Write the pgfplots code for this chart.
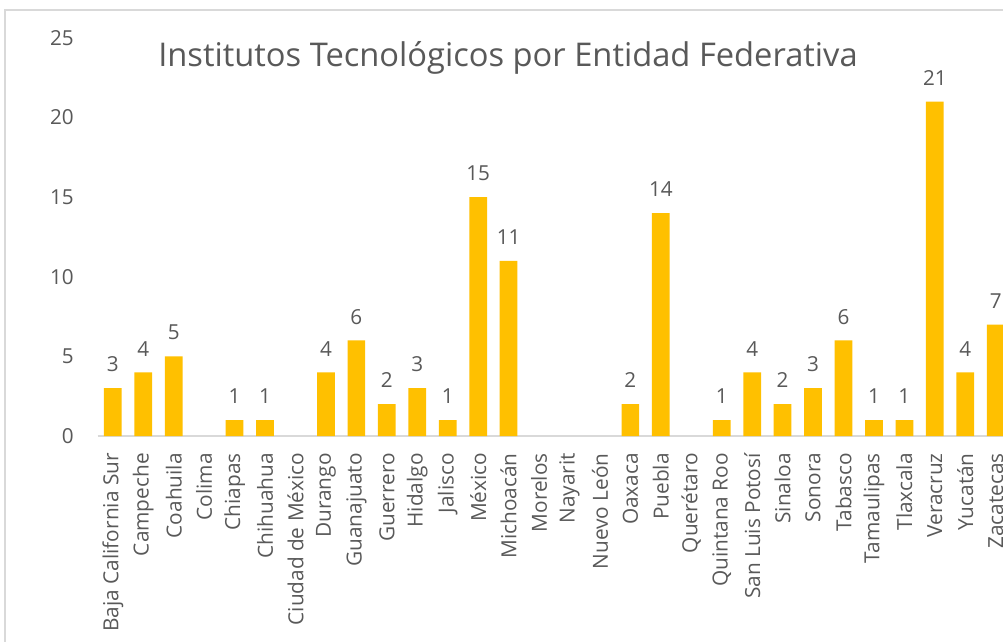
\documentclass[border=0pt]{standalone}
\usepackage{fontspec}
\setmainfont{Open Sans}
\usepackage{pgfplots}
\pgfplotsset{compat=1.18}
\definecolor{bar}{HTML}{FFC000}
\definecolor{txt}{HTML}{595959}
\definecolor{axl}{HTML}{D9D9D9}
\begin{document}
\begin{tikzpicture}
\useasboundingbox (0,0) rectangle (752.25pt,-481.5pt);
\begin{scope}
\clip (0,0) rectangle (752.25pt,-481.5pt);
\fill[white] (0,0) rectangle (752.25pt,-481.5pt);
\draw[axl, line width=1pt] (3.75pt,-800pt) -- (3.75pt,-7.5pt) -- (900pt,-7.5pt);
\begin{axis}[
  at={(73.2pt,-327pt)}, anchor=south west,
  scale only axis, width=685pt, height=298.5pt,
  xmin=-0.5, xmax=29.5, ymin=0, ymax=25,
  enlargelimits=false, clip=false,
  ytick={0,5,10,15,20,25},
  xtick={0,...,29},
  xticklabels={Baja California Sur,Campeche,Coahuila,Colima,Chiapas,Chihuahua,Ciudad de México,Durango,Guanajuato,Guerrero,Hidalgo,Jalisco,México,Michoacán,Morelos,Nayarit,Nuevo León,Oaxaca,Puebla,Querétaro,Quintana Roo,San Luis Potosí,Sinaloa,Sonora,Tabasco,Tamaulipas,Tlaxcala,Veracruz,Yucatán,Zacatecas},
  axis x line*=bottom, axis y line*=left,
  y axis line style={draw=none},
  x axis line style={axl, line width=1.2pt},
  major tick length=0pt, tick style={draw=none},
  ticklabel style={font=\fontsize{15.5}{18}\selectfont, text=txt},
  xticklabel style={rotate=90, anchor=east, inner sep=0pt, font=\fontsize{15.6}{18}\selectfont},
  xticklabel shift=12.75pt,
  yticklabel style={anchor=east, inner sep=0pt},
  yticklabel shift=17.7pt,
  /pgf/number format/assume math mode=true,
  ybar, bar width=13.3pt,
  y filter/.expression={y==0 ? nan : y},
  unbounded coords=discard,
  nodes near coords,
  nodes near coords style={font=\fontsize{15.5}{18}\selectfont, text=txt, anchor=south, inner sep=0pt, yshift=12pt},
]
\addplot[fill=bar, draw=none] table {
x y
0 3
1 4
2 5
3 0
4 1
5 1
6 0
7 4
8 6
9 2
10 3
11 1
12 15
13 11
14 0
15 0
16 0
17 2
18 14
19 0
20 1
21 4
22 2
23 3
24 6
25 1
26 1
27 21
28 4
29 7
};
\end{axis}
\end{scope}
\node[text=txt, font=\fontsize{24.5}{29}\selectfont, anchor=base, inner sep=0pt] at (381pt,-50.25pt) {Institutos Tecnológicos por Entidad Federativa};
\end{tikzpicture}
\end{document}
